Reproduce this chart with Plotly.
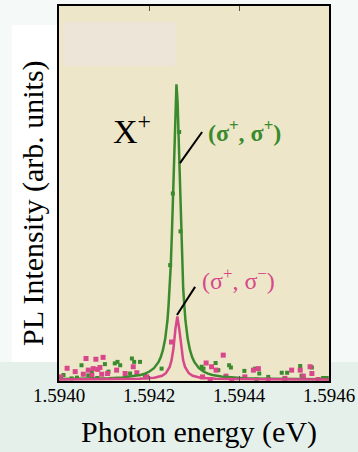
import plotly.graph_objects as go

# ---- data ----
x_ticks = [1.5940, 1.5942, 1.5944, 1.5946]
x_tick_labels = ["1.5940", "1.5942", "1.5944", "1.5946"]

# fitted curve, (sigma+, sigma+)
fit_pp_x = [1.5940, 1.594061, 1.594111, 1.594141, 1.594161, 1.594181, 1.594191, 1.594201,
            1.594211, 1.594221, 1.594226, 1.594231, 1.594236, 1.594241, 1.5942435, 1.594246,
            1.5942485, 1.594251, 1.5942535, 1.594256, 1.5942585, 1.594261, 1.5942635, 1.594266,
            1.5942685, 1.594271, 1.5942735, 1.594276, 1.5942785, 1.594281, 1.594286, 1.594291,
            1.594296, 1.594301, 1.594311, 1.594321, 1.594331, 1.594341, 1.594361, 1.594381,
            1.594411, 1.594461, 1.594561, 1.5946]
fit_pp_y = [0.0012, 0.0020, 0.0035, 0.0054, 0.0078, 0.0120, 0.0157, 0.0213,
            0.0303, 0.0463, 0.0592, 0.0787, 0.1086, 0.1574, 0.1982, 0.2422,
            0.3070, 0.3935, 0.5037, 0.6296, 0.7407, 0.7870, 0.7407, 0.6296,
            0.5037, 0.3935, 0.3070, 0.2422, 0.1982, 0.1574, 0.1086, 0.0787,
            0.0592, 0.0463, 0.0303, 0.0213, 0.0157, 0.0120, 0.0078, 0.0054,
            0.0035, 0.0020, 0.0009, 0.0007]

# fitted curve, (sigma+, sigma-)
fit_pm_x = [1.5940, 1.594093, 1.594178, 1.594212, 1.594229, 1.5942375, 1.594246, 1.5942502,
            1.5942545, 1.5942587, 1.594263, 1.5942673, 1.5942715, 1.5942758, 1.59428,
            1.5942885, 1.594297, 1.594314, 1.594348, 1.594433, 1.5946]
fit_pm_y = [0.0002, 0.0004, 0.0017, 0.0045, 0.0099, 0.0168, 0.0336, 0.0517,
            0.0840, 0.1344, 0.1680, 0.1344, 0.0840, 0.0517, 0.0336,
            0.0168, 0.0099, 0.0045, 0.0017, 0.0004, 0.0002]

# measured points, (sigma+, sigma+)
pts_pp_x = [1.594028, 1.594050, 1.594065, 1.594073, 1.594102, 1.594110, 1.594124, 1.594130,
            1.594136, 1.594162, 1.594167, 1.594180, 1.594158, 1.594191, 1.594228,
            1.594247, 1.594253, 1.594267, 1.594270, 1.594317,
            1.594348, 1.594378, 1.594382, 1.594321, 1.594354, 1.594412, 1.594436, 1.594445,
            1.594495, 1.594507, 1.594536, 1.594539, 1.594562, 1.594465, 1.594587, 1.594595,
            1.594439, 1.594010, 1.594040, 1.594085]
pts_pp_y = [0.003, 0.038, 0.011, 0.021, 0.041, 0.021, 0.043, 0.047,
            0.038, 0.056, 0.047, 0.047, 0.016, 0.011, 0.029,
            0.305, 0.496, 0.660, 0.395, 0.034,
            0.044, 0.038, 0.032, 0.029, 0.025, 0.023, 0.029, 0.016,
            0.018, 0.018, 0.036, 0.010, 0.032, 0.007, 0.004, 0.004,
            0.000, 0.012, 0.005, 0.004]

# measured points, (sigma+, sigma-)
pts_pm_x = [1.594004, 1.594018, 1.594036, 1.594060, 1.594065, 1.594076, 1.594082, 1.594086,
            1.594091, 1.594098, 1.594095, 1.594108, 1.594128, 1.594147, 1.594165, 1.594173,
            1.594195, 1.594073, 1.594054, 1.594250,
            1.594327, 1.594365, 1.594339, 1.594349, 1.594371, 1.594384, 1.594336, 1.594319,
            1.594432, 1.594443, 1.594465, 1.594502, 1.594517, 1.594536, 1.594558, 1.594562,
            1.594576, 1.594543, 1.594413]
pts_pm_y = [0.007, 0.030, 0.021, 0.056, 0.025, 0.029, 0.054, 0.027,
            0.032, 0.059, 0.014, 0.016, 0.025, 0.016, 0.034, 0.018,
            0.007, 0.011, 0.014, 0.100,
            0.044, 0.065, 0.034, 0.025, 0.009, 0.000, 0.000, 0.007,
            0.025, 0.029, 0.000, 0.003, 0.025, 0.025, 0.034, 0.016,
            0.000, 0.009, 0.007]

x_title = "Photon energy (eV)"
y_title = "PL Intensity (arb. units)"

GREEN = "#3a8a2e"
PINK = "#d8478a"
SERIF = "Liberation Serif, Times New Roman, serif"

fig = go.Figure()
fig.add_trace(go.Scatter(x=pts_pp_x, y=pts_pp_y, mode="markers",
                         marker=dict(symbol="square", size=4, color=GREEN), showlegend=False))
fig.add_trace(go.Scatter(x=pts_pm_x, y=pts_pm_y, mode="markers",
                         marker=dict(symbol="square", size=5, color=PINK), showlegend=False))
fig.add_trace(go.Scatter(x=fit_pp_x, y=fit_pp_y, mode="lines",
                         line=dict(color=GREEN, width=2.5), showlegend=False))
fig.add_trace(go.Scatter(x=fit_pm_x, y=fit_pm_y, mode="lines",
                         line=dict(color=PINK, width=2.5), showlegend=False))

shapes = [
    # slide background bands (outside plot area)
    dict(type="rect", xref="paper", yref="paper", x0=-0.25, x1=1.15, y0=-0.2, y1=0.0,
         fillcolor="#e6f0eb", line=dict(width=0), layer="below"),
    dict(type="rect", xref="paper", yref="paper", x0=-0.25, x1=0.0, y0=0.0, y1=0.051,
         fillcolor="#e6f0eb", line=dict(width=0), layer="below"),
    dict(type="rect", xref="paper", yref="paper", x0=1.0, x1=1.15, y0=0.0, y1=0.051,
         fillcolor="#e6f0eb", line=dict(width=0), layer="below"),
    dict(type="rect", xref="paper", yref="paper", x0=-0.174, x1=0, y0=0.051, y1=0.95,
         fillcolor="#ffffff", line=dict(width=0), layer="below"),
    # pale patch inside plot
    dict(type="rect", xref="paper", yref="paper", x0=0.015, x1=0.433, y0=0.84, y1=0.957,
         fillcolor="#ece5d8", line=dict(width=0), layer="below"),
    # leader lines
    dict(type="line", xref="paper", yref="paper", x0=0.448, y0=0.581, x1=0.530, y1=0.664,
         line=dict(color="black", width=2)),
    dict(type="line", xref="paper", yref="paper", x0=0.437, y0=0.176, x1=0.504, y1=0.251,
         line=dict(color="black", width=2)),
]

annotations = [
    dict(text="X<sup>+</sup>", xref="paper", yref="paper", x=0.272, y=0.672,
         xanchor="center", yanchor="middle", showarrow=False,
         font=dict(family=SERIF, size=34, color="black")),
    dict(text="<b>(σ<sup>+</sup>, σ<sup>+</sup>)</b>", xref="paper", yref="paper", x=0.687, y=0.668,
         xanchor="center", yanchor="middle",
         showarrow=False, font=dict(family=SERIF, size=24, color=GREEN)),
    dict(text="(σ<sup>+</sup>, σ<sup>−</sup>)", xref="paper", yref="paper", x=0.665, y=0.273,
         xanchor="center", yanchor="middle",
         showarrow=False, font=dict(family=SERIF, size=24, color=PINK)),
    # axis titles
    dict(text=x_title, xref="paper", yref="paper", x=0.52, y=-0.136,
         xanchor="center", yanchor="middle", showarrow=False,
         font=dict(family=SERIF, size=30, color="black")),
    dict(text=y_title, xref="paper", yref="paper", x=-0.096, y=0.475, textangle=-90,
         xanchor="center", yanchor="middle", showarrow=False,
         font=dict(family=SERIF, size=30, color="black")),
]

fig.update_layout(
    width=358, height=452,
    margin=dict(l=59, r=29, t=6, b=71),
    paper_bgcolor="#f5f9f7",
    plot_bgcolor="#ede6c8",
    shapes=shapes,
    annotations=annotations,
    xaxis=dict(range=[1.5940, 1.5946], tickvals=x_ticks, ticktext=x_tick_labels,
               ticks="inside", ticklen=5, tickcolor="#555", mirror="ticks", automargin=False,
               ticklabelstandoff=-4,
               showline=True, linecolor="black", linewidth=1.5, showgrid=False, zeroline=False,
               tickfont=dict(family=SERIF, size=19, color="black")),
    yaxis=dict(range=[-0.004, 0.996], showticklabels=False, ticks="", showgrid=False,
               automargin=False,
               zeroline=False, showline=True, linecolor="black", linewidth=1.5, mirror=True),
)

fig.write_html("out.html", config={"displayModeBar": False},
               post_script="document.body.style.margin='0';")
